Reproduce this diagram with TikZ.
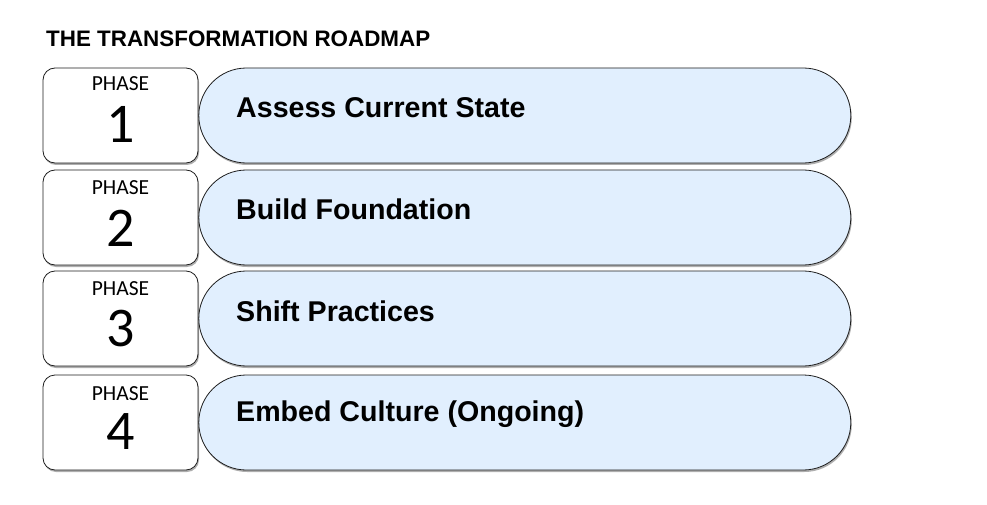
\documentclass[tikz,border=0pt]{standalone}
\usepackage{fontspec}
\setmainfont{Liberation Sans}
\newfontfamily\phasefont{Carlito}
\usetikzlibrary{shadows,positioning}
\definecolor{paleblue}{RGB}{225,239,254}
\definecolor{edgegray}{RGB}{30,30,30}
\tikzset{
  softshadow/.style={drop shadow={shadow xshift=1pt, shadow yshift=-2pt, opacity=0.45, fill=black!70}},
  phasebox/.style={draw=edgegray, line width=0.8pt, rounded corners=12pt, fill=white,
    minimum width=155pt, minimum height=95pt, softshadow},
  stagepill/.style={draw=edgegray, line width=0.8pt, rounded corners=47.5pt, fill=paleblue,
    minimum width=652pt, minimum height=95pt, softshadow},
  phaseword/.style={font=\phasefont\fontsize{21.5}{21.5}\selectfont},
  phasenum/.style={font=\phasefont\fontsize{56}{56}\selectfont},
  stagetext/.style={anchor=west, inner sep=0pt, font=\bfseries\fontsize{28.6}{28.6}\selectfont},
}
\begin{document}
\begin{tikzpicture}[x=1pt, y=-1pt]
    \useasboundingbox (0,0) rectangle (987,505);
    \node[anchor=west, inner sep=0pt, font=\bfseries\fontsize{22.4}{22.4}\selectfont] (title) at (46,39) {THE TRANSFORMATION ROADMAP};

    % Phase boxes
    \node[phasebox] (p1) at (120.5,115.5) {};
    \node[phasebox] (p2) at (120.5,217.5) {};
    \node[phasebox] (p3) at (120.5,318.5) {};
    \node[phasebox] (p4) at (120.5,422.5) {};

    % Stage pills
    \node[stagepill, right=0pt of p1] (s1) {};
    \node[stagepill, right=0pt of p2] (s2) {};
    \node[stagepill, right=0pt of p3] (s3) {};
    \node[stagepill, right=0pt of p4] (s4) {};

    % Phase labels
    \node[phaseword] (w1) at (120.5,84) {PHASE};
    \node[phasenum] (n1) at (120.5,124) {1};
    \node[phaseword] (w2) at (120.5,188) {PHASE};
    \node[phasenum] (n2) at (120.5,228) {2};
    \node[phaseword] (w3) at (120.5,289) {PHASE};
    \node[phasenum] (n3) at (120.5,329) {3};
    \node[phaseword] (w4) at (120.5,394) {PHASE};
    \node[phasenum] (n4) at (120.5,432) {4};

    % Stage titles
    \node[stagetext] (t1) at (236,108) {Assess Current State};
    \node[stagetext] (t2) at (236,209) {Build Foundation};
    \node[stagetext] (t3) at (236,311) {Shift Practices};
    \node[stagetext] (t4) at (236,414) {Embed Culture (Ongoing)};
\end{tikzpicture}
\end{document}
